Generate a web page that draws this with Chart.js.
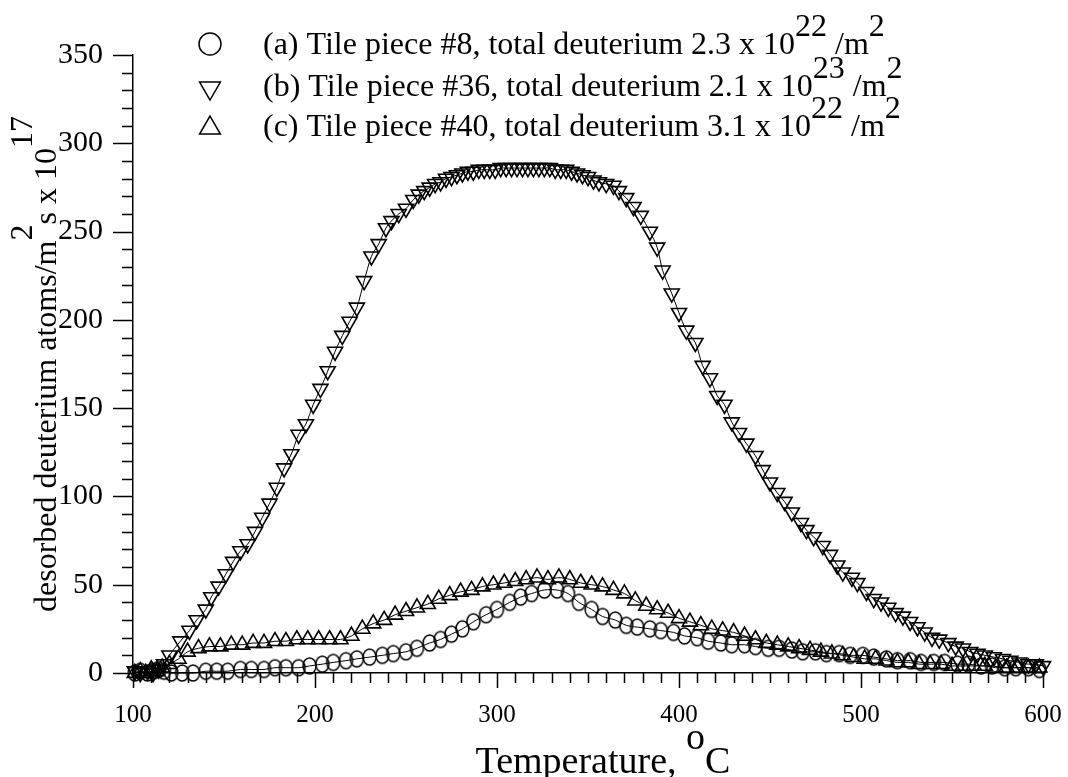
<!DOCTYPE html>
<html>
<head>
<meta charset="utf-8">
<script src="https://cdn.jsdelivr.net/npm/chart.js@4"></script>
<style>
  html, body { margin: 0; padding: 0; background: #fff; }
  canvas { display: block; }
</style>
</head>
<body>
<canvas id="tds" width="1068" height="777"></canvas>
<script>
// (a) tile piece #8 - circles
const tempA = [101,104,108,111,114,117,121,127,133,140,146,152,159,165,172,178,184,191,197,204,210,217,223,230,237,243,250,256,263,269,275,281,287,294,300,307,313,319,326,333,339,345,352,358,365,371,377,384,390,397,403,410,416,423,429,436,442,449,455,462,468,475,481,488,494,501,507,514,520,527,533,540,546,553,559,566,572,579,585,592,598];
const valA  = [0,1,0,1,2,1,0,0,0,1,1,1,2,2,2,3,3,3,4,5,6,7,8,9,10,11,12,14,17,19,22,25,29,33,36,40,43,45,47,47,45,40,36,32,30,27,26,25,24,23,21,20,18,17,16,16,15,14,14,13,12,12,11,11,10,10,9,8,7,7,6,6,6,5,5,4,4,3,3,3,2];

// (b) tile piece #36 - down triangles
const tempB = [101,104,108,111,114,117,120,126,131,135,140,143,147,151,155,159,163,167,171,175,179,183,187,191,195,199,203,207,211,215,219,223,227,231,235,239,242,246,250,254,257,260,263,266,269,272,275,278,281,284,287,290,293,296,299,302,305,308,311,314,317,320,323,326,329,332,335,338,341,344,347,350,353,356,360,364,367,371,375,379,384,388,391,396,400,404,409,413,417,421,425,429,433,437,442,446,450,454,458,462,467,470,474,479,483,487,490,495,498,503,507,511,515,519,523,527,531,535,539,543,548,552,556,560,564,568,573,578,582,587,592,596,600];
const valB  = [1,0,1,0,2,5,10,18,24,30,36,43,49,56,63,69,73,80,88,96,105,116,124,135,141,152,161,171,182,191,199,207,222,236,243,252,256,260,263,268,271,273,275,277,278,280,281,282,283,284,284,285,285,285,285,286,286,286,286,286,286,286,286,286,286,285,285,285,284,283,282,281,279,278,277,276,273,269,264,259,250,241,228,215,204,194,187,174,167,157,152,142,136,130,123,115,108,102,97,91,85,81,77,72,67,61,57,54,51,46,42,40,37,34,32,29,26,23,20,19,17,15,14,12,11,10,9,8,7,6,5,5,4];

// (c) tile piece #40 - up triangles
const tempC = [101,104,107,110,113,116,120,125,130,136,142,148,154,160,166,172,178,184,190,196,202,208,214,220,226,232,238,244,250,256,262,268,274,280,286,292,298,304,310,316,322,328,334,340,346,352,358,364,370,376,382,388,394,400,406,412,418,424,430,436,442,448,454,460,466,472,478,484,490,496,502,508,514,520,526,532,538,544,550,556,562,568,574,580,586,592,598];
const valC  = [0,1,0,2,1,3,5,8,12,14,15,15,16,16,17,17,18,18,19,19,19,19,19,21,25,28,30,33,35,37,39,42,44,46,47,49,50,51,52,53,54,53,54,53,51,50,49,47,45,41,38,36,34,31,29,27,25,24,23,21,19,17,16,15,14,13,12,11,10,9,8,8,7,6,6,5,5,5,4,4,4,4,3,3,3,3,3];

const xTickLabels = [100, 200, 300, 400, 500, 600];
const yTickLabels = [0, 50, 100, 150, 200, 250, 300, 350];

// text pieces: [text, isSuperscript]
const legendA = [['(a) Tile piece #8, total deuterium 2.3 x 10', false], ['22', true], [' /m', false], ['2', true]];
const legendB = [['(b) Tile piece #36, total deuterium 2.1 x 10', false], ['23', true], [' /m', false], ['2', true]];
const legendC = [['(c) Tile piece #40, total deuterium 3.1 x 10', false], ['22', true], [' /m', false], ['2', true]];
const yTitle = [['desorbed deuterium atoms/m', false], ['2', true], ['s x 10', false], ['17', true]];
const xTitle = [['Temperature, ', false], ['o', true], ['C', false]];

const SERIF = '"Liberation Serif", "Times New Roman", serif';

function toPoints(xs, ys) {
    return xs.map((t, i) => ({ x: t, y: ys[i] }));
}

// the scanned circles are slightly taller than wide
function ovalMarker(w, h, lw) {
    const c = document.createElement('canvas');
    c.width = w + 4;
    c.height = h + 4;
    const g = c.getContext('2d');
    g.strokeStyle = '#000';
    g.lineWidth = lw;
    g.beginPath();
    g.ellipse(c.width / 2, c.height / 2, w / 2, h / 2, 0, 0, Math.PI * 2);
    g.stroke();
    return c;
}

function series(label, xs, ys, style, rotation, radius) {
    return {
        label: label,
        data: toPoints(xs, ys),
        showLine: true,
        borderColor: '#000',
        borderWidth: 1,
        tension: 0.3,
        pointStyle: style,
        rotation: rotation,
        pointRadius: radius,
        pointBorderWidth: 1.6,
        pointBorderColor: '#000',
        pointBackgroundColor: 'rgba(0,0,0,0)',
        clip: false
    };
}

// draws text with raised superscripts of the same size
function drawRich(ctx, parts, x, y, raise) {
    let cx = x;
    parts.forEach(([txt, sup]) => {
        ctx.fillText(txt, cx, sup ? y - raise : y);
        cx += ctx.measureText(txt).width;
    });
    return cx;
}
function richWidth(ctx, parts) {
    return parts.reduce((w, p) => w + ctx.measureText(p[0]).width, 0);
}

const legendMarks = [
    { style: 'circle', rotation: 0, radius: 11, x: 210, y: 44 },
    { style: 'triangle', rotation: 180, radius: 12, x: 210, y: 88 },
    { style: 'triangle', rotation: 0, radius: 12, x: 210, y: 128 }
];

const decorations = {
    id: 'decorations',
    afterDraw(chart) {
        const ctx = chart.ctx;
        const xs = chart.scales.x, ys = chart.scales.y;
        const area = chart.chartArea;
        ctx.save();
        ctx.strokeStyle = '#000';
        ctx.lineWidth = 1.5;

        // minor and major ticks, pointing outward
        ctx.beginPath();
        for (let v = 100; v <= 600; v += 10) {
            const px = Math.round(xs.getPixelForValue(v)) + 0.5;
            const len = v % 100 === 0 ? 15 : 10;
            ctx.moveTo(px, area.bottom);
            ctx.lineTo(px, area.bottom + len);
        }
        for (let v = 0; v <= 350; v += 10) {
            const py = Math.round(ys.getPixelForValue(v)) + 0.5;
            const len = v % 50 === 0 ? 20 : 11;
            ctx.moveTo(area.left - len, py);
            ctx.lineTo(area.left, py);
        }
        ctx.stroke();

        // legend markers
        legendMarks.forEach(m => {
            ctx.fillStyle = 'rgba(0,0,0,0)';
            Chart.helpers.drawPoint(ctx, {
                pointStyle: m.style,
                rotation: m.rotation,
                radius: m.radius,
                borderWidth: 1.4
            }, m.x, m.y);
        });

        // legend text
        ctx.fillStyle = '#000';
        ctx.font = '32px ' + SERIF;
        ctx.textBaseline = 'alphabetic';
        ctx.textAlign = 'left';
        drawRich(ctx, legendA, 263, 54, 18);
        drawRich(ctx, legendB, 263, 96, 18);
        drawRich(ctx, legendC, 263, 136, 18);

        // x axis title
        ctx.font = '38px ' + SERIF;
        const xw = richWidth(ctx, xTitle);
        drawRich(ctx, xTitle, 603 - xw / 2, 773, 24);

        // y axis title, rotated
        ctx.font = '32px ' + SERIF;
        ctx.translate(56, 0);
        ctx.rotate(-Math.PI / 2);
        drawRich(ctx, yTitle, -612, 0, 24);
        ctx.restore();
    }
};

new Chart(document.getElementById('tds'), {
    type: 'scatter',
    data: {
        datasets: [
            series('(a) Tile piece #8', tempA, valA, ovalMarker(13, 16, 1.5), 0, 7),
            series('(b) Tile piece #36', tempB, valB, 'triangle', 180, 8.7),
            series('(c) Tile piece #40', tempC, valC, 'triangle', 0, 8.7)
        ]
    },
    options: {
        responsive: false,
        animation: false,
        devicePixelRatio: 1,
        layout: { padding: { top: 55, right: 25, left: 0, bottom: 0 } },
        plugins: {
            legend: { display: false },
            tooltip: { enabled: false }
        },
        scales: {
            x: {
                type: 'linear',
                min: 100,
                max: 600,
                afterBuildTicks: s => { s.ticks = xTickLabels.map(v => ({ value: v })); },
                afterFit: s => {
                    s.height = 104;
                    // tick padding would otherwise be added to the side overflow
                    s.paddingLeft = 0;
                    s.paddingRight = 0;
                },
                grid: { drawOnChartArea: false, drawTicks: false },
                border: { display: true, color: '#000', width: 1.5 },
                ticks: { color: '#000', padding: 27, maxRotation: 0, font: { family: SERIF, size: 25 } }
            },
            y: {
                type: 'linear',
                min: 0,
                max: 350,
                afterBuildTicks: s => { s.ticks = yTickLabels.map(v => ({ value: v })); },
                afterFit: s => { s.width = 133; },
                grid: { drawOnChartArea: false, drawTicks: false },
                border: { display: true, color: '#000', width: 1.5 },
                ticks: { color: '#000', padding: 30, font: { family: SERIF, size: 30 } }
            }
        }
    },
    plugins: [decorations]
});
</script>
</body>
</html>
